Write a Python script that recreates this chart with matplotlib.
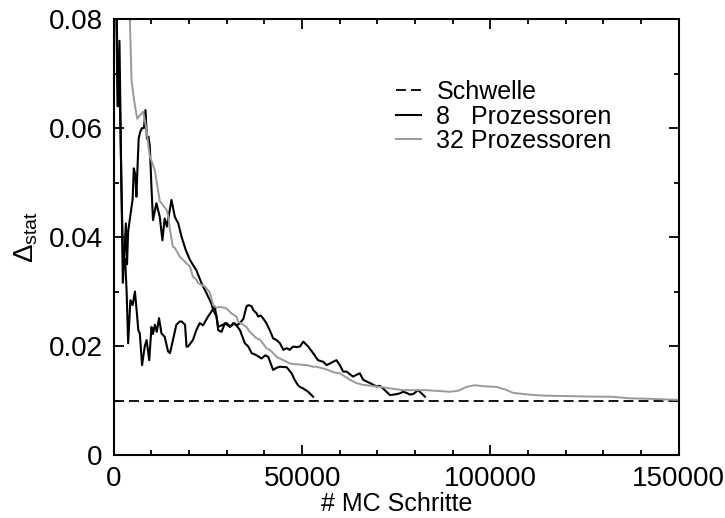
import numpy as np
import matplotlib
matplotlib.use("Agg")
from matplotlib import pyplot as plt
from matplotlib.ticker import MultipleLocator, FuncFormatter

plt.rcParams['font.family'] = ['Liberation Sans', 'DejaVu Sans']
plt.rcParams['mathtext.fontset'] = 'custom'
plt.rcParams['mathtext.rm'] = 'Liberation Sans'
plt.rcParams['mathtext.it'] = 'Liberation Sans:italic'

threshold = 0.01

# 8 processors, first run (reaches threshold first)
steps_a = [500, 1000, 1500, 2000, 2400, 2800, 3200, 3500, 3800, 4400, 5000, 5300,
           5700, 6000, 6300, 6600, 7000, 7500, 8000, 8400, 8800, 9200, 9560, 10000,
           10400, 11300, 12200, 12900, 13500, 14100, 15300, 16200, 17100, 18000,
           19100, 20200, 21900, 23300, 24600, 25900, 26400, 27300, 27700, 28600,
           29500, 30800, 32100, 33500, 34800, 35700, 36600, 37900, 39200, 40200,
           41000, 42300, 43200, 44100, 45900, 47200, 48000, 48900, 49400, 50300,
           51600, 52900]
delta_a = [0.09, 0.064, 0.076, 0.05, 0.0316, 0.037, 0.0425, 0.035, 0.041, 0.044,
           0.047, 0.0526, 0.0514, 0.0474, 0.053, 0.0581, 0.0593, 0.060, 0.0600,
           0.0633, 0.058, 0.0584, 0.0566, 0.049, 0.0431, 0.0462, 0.0437, 0.0394,
           0.0434, 0.0419, 0.0468, 0.0437, 0.0425, 0.040, 0.0376, 0.0358, 0.0339,
           0.0315, 0.0297, 0.0278, 0.0266, 0.0254, 0.0229, 0.0226, 0.0242, 0.0235,
           0.0242, 0.0229, 0.0205, 0.0199, 0.0187, 0.0183, 0.0177, 0.0183, 0.018,
           0.0156, 0.016, 0.0162, 0.0161, 0.015, 0.0138, 0.0128, 0.0125, 0.0122,
           0.0116, 0.0107]

# 8 processors, second run
steps_b = [600, 1100, 1500, 2000, 2500, 3000, 3400, 3800, 4400, 5000, 5600, 6000,
           6500, 6900, 7500, 8200, 8700, 9400, 10000, 10400, 10900, 11400, 12000,
           12650, 13500, 14400, 14900, 15700, 16600, 17500, 18000, 18900, 19300,
           19700, 21000, 21900, 22800, 23700, 25000, 25900, 26800, 27700, 28600,
           29900, 31000, 31700, 32600, 33500, 34400, 35200, 35700, 36600, 37000,
           37900, 38300, 39000, 39600, 40500, 41400, 42300, 43200, 44100, 45000,
           45900, 46700, 47600, 48500, 49400, 50300, 51600, 52900, 54200, 55600,
           56500, 57400, 58200, 59100, 60000, 60900, 61800, 62700, 63500, 64400,
           65300, 66200, 67100, 68000, 69700, 70600, 71500, 72400, 73300, 74500,
           75900, 76800, 77700, 78600, 79500, 80800, 81700, 82600]
delta_b = [0.09, 0.064, 0.07, 0.05, 0.034, 0.036, 0.030, 0.0205, 0.0284, 0.0275,
           0.030, 0.027, 0.0229, 0.0223, 0.0165, 0.0199, 0.0211, 0.0174, 0.0235,
           0.0222, 0.0239, 0.0226, 0.0251, 0.0223, 0.0217, 0.019, 0.0187, 0.0211,
           0.0239, 0.0245, 0.0245, 0.0239, 0.0199, 0.0199, 0.0211, 0.0229, 0.0242,
           0.0238, 0.0254, 0.0263, 0.0272, 0.0235, 0.0238, 0.0242, 0.0236, 0.0242,
           0.0238, 0.0242, 0.025, 0.0272, 0.0275, 0.0273, 0.0266, 0.026, 0.0254,
           0.0256, 0.0251, 0.0242, 0.0229, 0.0214, 0.0211, 0.0205, 0.0193, 0.0196,
           0.0193, 0.0199, 0.0198, 0.0199, 0.0208, 0.0199, 0.0187, 0.0174, 0.0171,
           0.0165, 0.0168, 0.0171, 0.0174, 0.0165, 0.0153, 0.0153, 0.0148, 0.0144,
           0.0147, 0.015, 0.0138, 0.0135, 0.0132, 0.0126, 0.0127, 0.0122, 0.0116,
           0.011, 0.0111, 0.0113, 0.0116, 0.0114, 0.0111, 0.0112, 0.0119, 0.0113,
           0.0107]

# 32 processors
steps_g = [3800, 4250, 4700, 5400, 6200, 7000, 7800, 8600, 9500, 10900, 12200,
           14000, 14400, 14900, 15700, 16200, 17500, 19700, 20200, 21000, 22000,
           22400, 24200, 25500, 26400, 27300, 28100, 29900, 31200, 32600, 33000,
           35200, 36100, 37900, 38800, 40500, 41400, 42300, 43200, 44100, 45900,
           46700, 47600, 51200, 52900, 53800, 56500, 58200, 60000, 62700, 64400,
           66000, 70600, 76800, 83000, 89200, 91500, 93600, 95800, 98500, 101600,
           104000, 106000, 110000, 114000, 121000, 128000, 132000, 137000, 143000,
           150000]
delta_g = [0.09, 0.080, 0.0688, 0.065, 0.0617, 0.0624, 0.063, 0.060, 0.055, 0.0522,
           0.0466, 0.045, 0.044, 0.0413, 0.0382, 0.0380, 0.0364, 0.0349, 0.0346,
           0.0327, 0.0321, 0.0315, 0.0309, 0.0298, 0.0275, 0.0270, 0.0272, 0.0269,
           0.026, 0.0254, 0.0245, 0.0235, 0.0226, 0.0214, 0.0212, 0.0196, 0.0193,
           0.0187, 0.018, 0.0177, 0.0171, 0.0168, 0.0167, 0.0165, 0.0162, 0.0162,
           0.0157, 0.0152, 0.015, 0.0138, 0.0132, 0.0129, 0.0125, 0.0119, 0.0119,
           0.0116, 0.0118, 0.0125, 0.0128, 0.0126, 0.0125, 0.012, 0.0114, 0.0111,
           0.0109, 0.0108, 0.0107, 0.0107, 0.0104, 0.0103, 0.0101]

fig = plt.figure(figsize=(7.25, 5.18), dpi=100)
ax = fig.add_axes([0.157, 0.1216, 0.7793, 0.8417])

ax.plot([0, 150000], [threshold, threshold], color='black', lw=1.3,
        dashes=(5.5, 2.8), label='Schwelle')
ax.plot(steps_a, delta_a, color='black', lw=1.5, label='8   Prozessoren')
ax.plot(steps_b, delta_b, color='black', lw=1.5)
ax.plot(steps_g, delta_g, color='#9a9a9a', lw=1.4, label='32 Prozessoren')

ax.set_xlim(0, 150000)
ax.set_ylim(0, 0.08)
ax.xaxis.set_major_locator(MultipleLocator(50000))
ax.xaxis.set_minor_locator(MultipleLocator(10000))
ax.yaxis.set_major_locator(MultipleLocator(0.02))
ax.yaxis.set_minor_locator(MultipleLocator(0.01))
ax.xaxis.set_major_formatter(FuncFormatter(lambda v, p: '%g' % v))
ax.yaxis.set_major_formatter(FuncFormatter(lambda v, p: '%g' % round(v, 3)))

ax.tick_params(which='both', direction='in', top=True, right=True,
               labelsize=20, width=1.3)
ax.tick_params(which='major', length=7, pad=8)
ax.tick_params(which='minor', length=3.6)
for s in ax.spines.values():
    s.set_linewidth(1.5)

ax.set_xlabel('# MC Schritte', fontsize=18, labelpad=0)
ax.set_ylabel(r'$\Delta_{\mathrm{stat}}$', fontsize=20, labelpad=6)

ax.legend(loc='upper left', bbox_to_anchor=(0.50, 0.86), frameon=False,
          fontsize=18, handlelength=1.0, handletextpad=0.6, labelspacing=0.02,
          borderaxespad=0, borderpad=0)

fig.savefig('out.png', dpi=100)
